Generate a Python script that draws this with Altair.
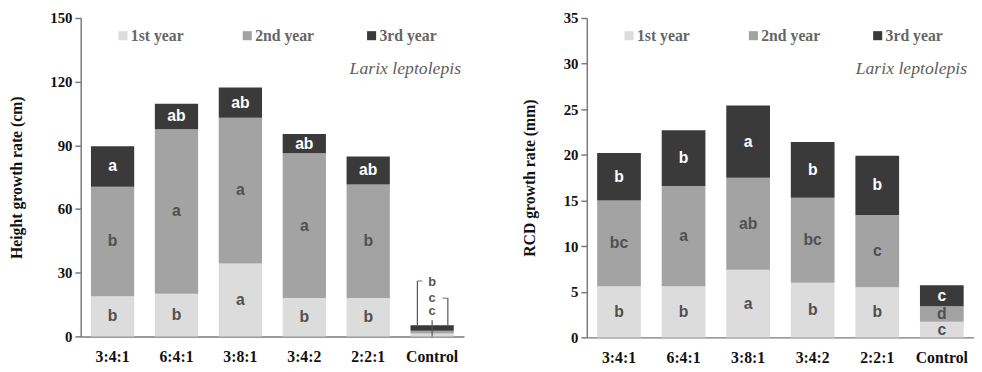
import altair as alt
import pandas as pd

treatments = ["3:4:1", "6:4:1", "3:8:1", "3:4:2", "2:2:1", "Control"]
years = ["1st year", "2nd year", "3rd year"]
species = "Larix leptolepis"

# Height growth rate (cm), increment per year
height_1st = [18.9, 20.1, 34.4, 18.1, 18.1, 1.4]
height_2nd = [51.6, 77.5, 68.6, 68.2, 53.5, 1.3]
height_3rd = [19.1, 12.0, 14.3, 9.0, 13.2, 2.5]
height_let_1st = ["b", "b", "a", "b", "b", "c"]
height_let_2nd = ["b", "a", "a", "a", "b", "c"]
height_let_3rd = ["a", "ab", "ab", "ab", "ab", "b"]
# Control letters of the height panel are lifted above the short bar
control_label_levels = [11.8, 18.0, 25.7]

# RCD growth rate (mm), increment per year
rcd_1st = [5.6, 5.6, 7.4, 6.0, 5.5, 1.7]
rcd_2nd = [9.4, 11.0, 10.1, 9.3, 7.9, 1.7]
rcd_3rd = [5.2, 6.1, 7.9, 6.1, 6.5, 2.3]
rcd_let_1st = ["b", "b", "a", "b", "b", "c"]
rcd_let_2nd = ["bc", "a", "ab", "bc", "c", "d"]
rcd_let_3rd = ["b", "b", "a", "b", "b", "c"]

BAR_COLORS = ["#dcdcdc", "#a3a3a3", "#3a3a3a"]
SERIF = "Liberation Serif"
SANS = "Liberation Sans"
AXIS_GRAY = "#7a7a7a"


def build_table(v1, v2, v3, l1, l2, l3):
    rows = []
    for i, t in enumerate(treatments):
        vals = [v1[i], v2[i], v3[i]]
        labs = [l1[i], l2[i], l3[i]]
        base = 0.0
        for j, yname in enumerate(years):
            rows.append(dict(treatment=t, year=yname, start=base,
                             end=base + vals[j], mid=base + vals[j] / 2,
                             letter=labs[j]))
            base += vals[j]
    return pd.DataFrame(rows)


def xdef():
    return alt.X("treatment:N", sort=treatments,
                 scale=alt.Scale(paddingInner=0.323, paddingOuter=0.16),
                 axis=alt.Axis(title=None, labelAngle=0, ticks=False,
                               labelPadding=13, labelFont=SERIF,
                               labelFontWeight="bold", labelFontSize=16,
                               labelColor="#111111", domainColor=AXIS_GRAY,
                               domainWidth=1.5))


def panel(df, ymax, ystep, ytitle, width, height, lifted_control=False):
    color = alt.Color("year:N", scale=alt.Scale(domain=years, range=BAR_COLORS),
                      legend=None)
    y = alt.Y("start:Q", scale=alt.Scale(domain=[0, ymax], nice=False, zero=True),
              axis=alt.Axis(values=list(range(0, ymax + 1, ystep)), title=ytitle,
                            grid=False, tickSize=6, tickColor=AXIS_GRAY,
                            tickWidth=1.5, domainColor=AXIS_GRAY, domainWidth=1.5,
                            labelFont=SERIF, labelFontWeight="bold",
                            labelFontSize=15, labelColor="#111111",
                            labelPadding=3, titleFont=SERIF,
                            titleFontWeight="bold", titleFontSize=16,
                            titleColor="#111111", titlePadding=26))
    bars = alt.Chart(df).mark_bar().encode(x=xdef(), y=y, y2="end:Q", color=color)

    text_src = df
    if lifted_control:
        text_src = df[df["treatment"] != "Control"]
    letters = alt.Chart(text_src).mark_text(
        font=SANS, fontWeight="bold", fontSize=16, baseline="middle"
    ).encode(
        x=xdef(), y=alt.Y("mid:Q"), text="letter:N",
        color=alt.condition("datum.year == '3rd year'", alt.value("#ffffff"),
                            alt.value("#505050")))

    leg = pd.DataFrame({"year": years})
    leg_sw = alt.Chart(leg).transform_window(
        idx="row_number()"
    ).transform_calculate(
        sx="43 + 126.5 * (datum.idx - 1)"
    ).mark_square(size=85, opacity=1).encode(
        x=alt.X("sx:Q", scale=None, axis=None), y=alt.value(18), color=color)
    leg_tx = alt.Chart(leg).transform_window(
        idx="row_number()"
    ).transform_calculate(
        tx="51 + 126.5 * (datum.idx - 1)"
    ).mark_text(align="left", baseline="middle", font=SERIF, fontWeight="bold",
                fontSize=16, color="#666666").encode(
        x=alt.X("tx:Q", scale=None, axis=None), y=alt.value(18), text="year:N")

    sp = alt.Chart(pd.DataFrame({"s": [species]})).mark_text(
        align="right", baseline="alphabetic", font=SERIF, fontStyle="italic",
        fontSize=18, color="#5e5e5e").encode(
        x=alt.value(387), y=alt.value(57), text="s:N")

    layers = [bars, letters, leg_sw, leg_tx, sp]

    if lifted_control:
        ctrl = df[df["treatment"] == "Control"].copy()
        ctrl["level"] = control_label_levels
        top = float(ctrl["end"].max())
        ctrl_txt = alt.Chart(ctrl).mark_text(
            font=SANS, fontWeight="bold", fontSize=13, baseline="middle",
            color="#555555").encode(x=xdef(), y="level:Q", text="letter:N")
        br = pd.DataFrame({
            "treatment": ["Control"] * 3,
            "y0": [top, top, 0.0],
            "y1": [control_label_levels[2] + 0.4, control_label_levels[1], 7.6],
        })
        vlines = []
        for k, off in enumerate([-15, 16, 0]):
            vlines.append(alt.Chart(br.iloc[[k]]).mark_rule(
                color="#555555", strokeWidth=1.2, xOffset=off).encode(
                x=xdef(), y="y0:Q", y2="y1:Q"))
        hl = pd.DataFrame({"treatment": ["Control", "Control"],
                           "yy": [control_label_levels[2] + 0.4,
                                  control_label_levels[1]]})
        hlines = [
            alt.Chart(hl.iloc[[0]]).mark_tick(
                orient="horizontal", color="#555555", thickness=1.2, size=5,
                xOffset=-12.5).encode(x=xdef(), y="yy:Q"),
            alt.Chart(hl.iloc[[1]]).mark_tick(
                orient="horizontal", color="#555555", thickness=1.2, size=6,
                xOffset=13.5).encode(x=xdef(), y="yy:Q"),
        ]
        layers += [ctrl_txt] + vlines + hlines

    return alt.layer(*layers).properties(width=width, height=height)


h_df = build_table(height_1st, height_2nd, height_3rd,
                   height_let_1st, height_let_2nd, height_let_3rd)
r_df = build_table(rcd_1st, rcd_2nd, rcd_3rd,
                   rcd_let_1st, rcd_let_2nd, rcd_let_3rd)

left = panel(h_df, 150, 30, "Height growth rate (cm)", 390, 324,
             lifted_control=True)
right = panel(r_df, 35, 5, "RCD growth rate (mm)", 394, 325)

chart = alt.hconcat(left, right, spacing=59).properties(
    padding=0, background="#ffffff"
).configure_view(stroke=None)

chart.save("out.html", embed_options={"renderer": "svg", "actions": False})
